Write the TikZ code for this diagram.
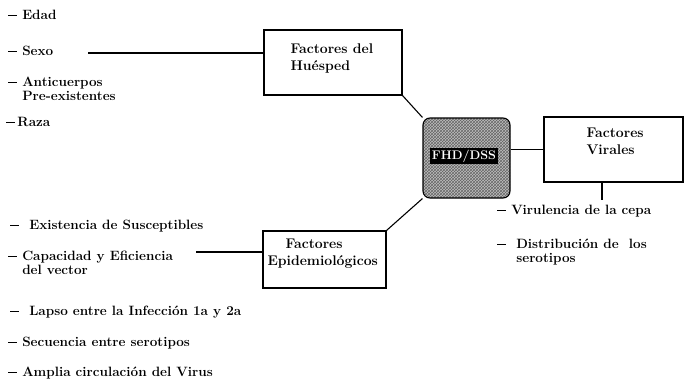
\documentclass[tikz,border=0pt]{standalone}
\usepackage{amsfonts, amssymb, amsmath}
\usepackage{tikz}
\usetikzlibrary{patterns}

\newcommand{\raya}{\rule[0.6ex]{9pt}{1pt}}

\tikzset{
    factorbox/.style={draw, line width=1.1pt, minimum width=#1, inner sep=0pt},
    factorbox/.default=138pt,
    item/.style={anchor=west, align=left, inner sep=0pt, font=\fontsize{13.5}{14.5}\selectfont\bfseries},
    boxtext/.style={font=\fontsize{14}{17}\selectfont\bfseries},
    link/.style={line width=1.1pt},
}

\begin{document}
\begin{tikzpicture}[x=1pt, y=-1pt]
    \useasboundingbox (0,0) rectangle (687,383);

    % Central box
    \node[draw, line width=1.1pt, rounded corners=7pt, minimum width=87pt, minimum height=80pt,
          preaction={fill=gray!50}, pattern=crosshatch, pattern color=black!60] (centro) at (466.5, 158) {};
    \node[fill=black, text=white, inner sep=1.5pt, font=\fontsize{12.5}{13}\selectfont\bfseries] (sigla) at (464, 156) {FHD/DSS};

    % Host side
    \node[factorbox=138pt, minimum height=65pt] (huesped) at (333, 62.5) {};
    \node[boxtext, align=left, anchor=west] (huespedtxt) at (287, 58.5) {Factores del\\Huésped};

    \node[item] (edad) at (8, 15) {\raya\ Edad};
    \node[item] (sexo) at (8, 51) {\raya\ Sexo};
    \node[item] (anticuerpos) at (8, 89) {\raya\ Anticuerpos\\\phantom{\raya\ }Pre-existentes};
    \node[item] (raza) at (6, 122) {\raya\,Raza};

    \coordinate (sexofin) at (88, 53);
    \draw[link] (sexofin) -- (sexofin -| huesped.west);
    \draw[link] (huesped.south east) -- (centro.north west);

    % Viral side
    \node[factorbox=139pt, minimum height=65pt] (virales) at (613.5, 149.5) {};
    \node[boxtext, align=left, anchor=west] (viralestxt) at (583, 141.5) {Factores\\Virales};

    \draw[link] (centro.east |- virales.west) -- (virales.west);

    \node[item] (virulencia) at (497, 211) {\raya\ Virulencia de la cepa};
    \node[item] (distribucion) at (497, 252) {\raya\ \ Distribución de \ los\\\phantom{\raya\ \ }serotipos};

    \coordinate (cepa) at (602, 200);
    \draw[link] (virales.south -| cepa) -- (cepa);

    % Epidemiological side
    \node[factorbox=123pt, minimum height=57pt] (epidem) at (324.5, 259.5) {};
    \node[boxtext, align=left, anchor=west] (epidemtxt) at (264, 253.5) {\hspace*{18pt}Factores\\Epidemiológicos};

    \draw[link] (epidem.north east) -- (centro.south west);

    \node[item] (existencia) at (10, 226) {\raya\ \ Existencia de Susceptibles};
    \node[item] (capacidad) at (8, 263) {\raya\ Capacidad y Eficiencia\\\phantom{\raya\ }del vector};
    \node[item] (lapso) at (10, 312) {\raya\ \ Lapso entre la Infección 1a y 2a};
    \node[item] (secuencia) at (8, 343) {\raya\ Secuencia entre serotipos};
    \node[item] (amplia) at (8, 373) {\raya\ Amplia circulación del Virus};

    \coordinate (capfin) at (196, 252);
    \draw[link] (capfin) -- (capfin -| epidem.west);
\end{tikzpicture}
\end{document}
